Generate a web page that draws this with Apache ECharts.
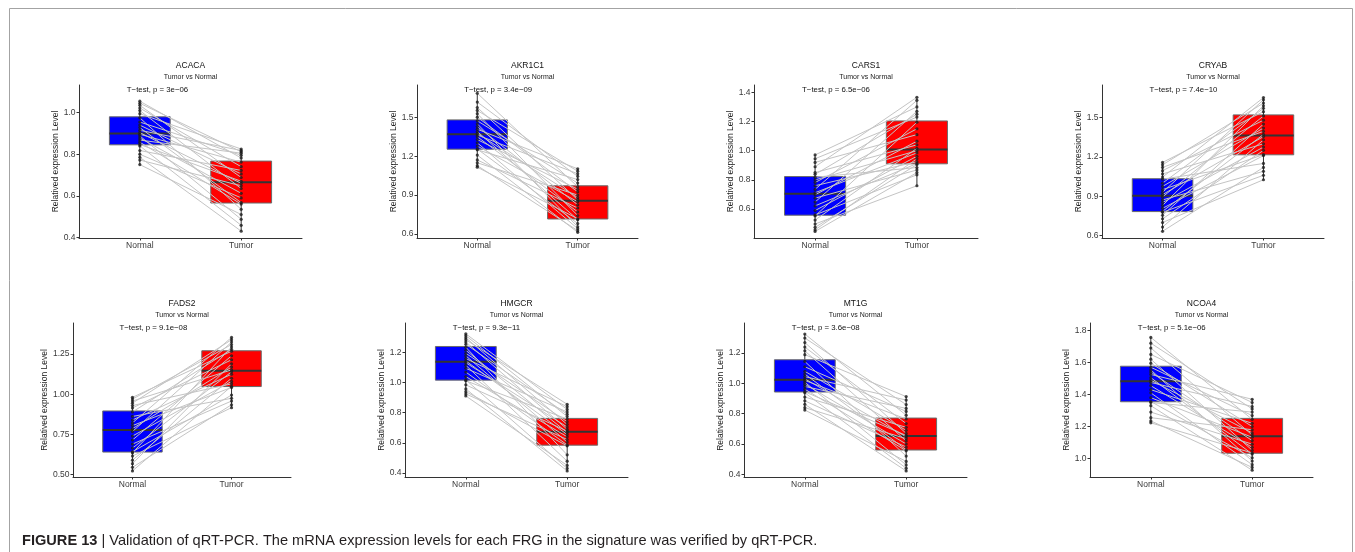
<!DOCTYPE html>
<html>
<head>
<meta charset="utf-8">
<title>qRT-PCR validation</title>
<script src="https://cdn.jsdelivr.net/npm/echarts@6/dist/echarts.min.js"></script>
<style>
  html, body { margin: 0; padding: 0; background: #ffffff; }
  #chart { width: 1355px; height: 552px; }
</style>
</head>
<body>
<div id="chart"></div>
<script>
// ---- data: paired relative expression, Normal[i] is paired with Tumor[i] ----
const groups = ['Normal', 'Tumor'];
const genes = ['ACACA', 'AKR1C1', 'CARS1', 'CRYAB', 'FADS2', 'HMGCR', 'MT1G', 'NCOA4'];
const pLabels = [
  'T\u2212test, p = 3e\u221206', 'T\u2212test, p = 3.4e\u221209', 'T\u2212test, p = 6.5e\u221206', 'T\u2212test, p = 7.4e\u221210',
  'T\u2212test, p = 9.1e\u221208', 'T\u2212test, p = 9.3e\u221211', 'T\u2212test, p = 3.6e\u221208', 'T\u2212test, p = 5.1e\u221206'
];

const acacaNormal = [0.750, 0.772, 0.785, 0.800, 0.818, 0.840, 0.847, 0.858, 0.868, 0.878, 0.888, 0.896, 0.904, 0.915, 0.928, 0.940, 0.955, 0.975, 0.995, 1.010, 1.022, 1.035, 1.045, 1.055];
const acacaTumor  = [0.510, 0.648, 0.430, 0.590, 0.722, 0.458, 0.670, 0.560, 0.805, 0.612, 0.487, 0.762, 0.660, 0.818, 0.567, 0.705, 0.795, 0.535, 0.825, 0.635, 0.740, 0.688, 0.812, 0.782];

const akr1c1Normal = [1.116, 1.128, 1.150, 1.172, 1.210, 1.250, 1.257, 1.280, 1.305, 1.330, 1.352, 1.365, 1.377, 1.392, 1.410, 1.430, 1.452, 1.475, 1.503, 1.530, 1.555, 1.578, 1.620, 1.688];
const akr1c1Tumor  = [0.717, 0.625, 0.900, 0.800, 0.612, 1.020, 0.680, 0.848, 0.640, 0.945, 0.770, 1.065, 0.880, 0.710, 1.103, 0.825, 0.655, 0.993, 0.925, 0.742, 1.085, 0.864, 1.045, 0.965];

const cars1Normal = [0.447, 0.458, 0.475, 0.498, 0.525, 0.553, 0.560, 0.590, 0.622, 0.648, 0.675, 0.698, 0.712, 0.735, 0.760, 0.782, 0.800, 0.818, 0.838, 0.850, 0.890, 0.920, 0.945, 0.971];
const cars1Tumor  = [0.850, 0.945, 0.905, 0.760, 1.016, 1.195, 0.835, 0.962, 0.912, 1.270, 0.868, 1.065, 0.985, 1.345, 0.925, 1.150, 1.000, 0.885, 1.250, 1.040, 1.366, 1.110, 1.230, 1.300];

const cryabNormal = [0.633, 0.665, 0.700, 0.728, 0.755, 0.778, 0.785, 0.808, 0.830, 0.852, 0.872, 0.895, 0.913, 0.930, 0.950, 0.975, 1.000, 1.030, 1.046, 1.070, 1.095, 1.120, 1.140, 1.158];
const cryabTumor  = [1.120, 1.330, 1.026, 1.250, 1.450, 1.060, 1.371, 1.210, 1.590, 1.275, 1.090, 1.512, 1.355, 1.635, 1.218, 1.420, 1.570, 1.150, 1.652, 1.300, 1.480, 1.395, 1.610, 1.545];

const fads2Normal = [0.523, 0.545, 0.568, 0.590, 0.615, 0.635, 0.642, 0.665, 0.690, 0.715, 0.740, 0.768, 0.786, 0.805, 0.822, 0.840, 0.862, 0.890, 0.915, 0.930, 0.945, 0.958, 0.970, 0.981];
const fads2Tumor  = [1.050, 0.935, 1.190, 1.100, 0.917, 1.295, 0.995, 1.140, 0.958, 1.240, 1.080, 1.325, 1.170, 1.043, 1.354, 1.125, 0.975, 1.280, 1.215, 1.065, 1.340, 1.152, 1.310, 1.268];

const hmgcrNormal = [0.911, 0.925, 0.940, 0.958, 0.985, 1.012, 1.018, 1.040, 1.070, 1.095, 1.115, 1.132, 1.144, 1.160, 1.178, 1.195, 1.215, 1.235, 1.255, 1.270, 1.285, 1.298, 1.312, 1.324];
const hmgcrTumor  = [0.450, 0.622, 0.580, 0.413, 0.678, 0.758, 0.430, 0.640, 0.586, 0.805, 0.478, 0.705, 0.655, 0.840, 0.605, 0.740, 0.668, 0.520, 0.790, 0.690, 0.856, 0.722, 0.775, 0.822];

const mt1gNormal = [0.824, 0.840, 0.862, 0.885, 0.910, 0.938, 0.945, 0.962, 0.980, 0.995, 1.008, 1.020, 1.030, 1.045, 1.062, 1.080, 1.110, 1.145, 1.190, 1.215, 1.240, 1.270, 1.300, 1.326];
const mt1gTumor  = [0.485, 0.635, 0.422, 0.580, 0.710, 0.440, 0.656, 0.555, 0.835, 0.600, 0.462, 0.765, 0.648, 0.890, 0.562, 0.690, 0.815, 0.520, 0.913, 0.620, 0.735, 0.670, 0.860, 0.790];

const ncoa4Normal = [1.223, 1.235, 1.255, 1.290, 1.330, 1.350, 1.356, 1.380, 1.410, 1.430, 1.455, 1.475, 1.489, 1.505, 1.525, 1.540, 1.553, 1.570, 1.595, 1.620, 1.650, 1.690, 1.720, 1.756];
const ncoa4Tumor  = [1.035, 0.945, 1.180, 1.090, 0.927, 1.290, 1.005, 1.133, 0.962, 1.220, 1.070, 1.325, 1.160, 1.028, 1.370, 1.112, 0.985, 1.268, 1.200, 1.052, 1.350, 1.147, 1.310, 1.245];

// y-axis tick labels and value range of each panel
const acacaTicks  = [0.4, 0.6, 0.8, 1.0];
const akr1c1Ticks = [0.6, 0.9, 1.2, 1.5];
const cars1Ticks  = [0.6, 0.8, 1.0, 1.2, 1.4];
const cryabTicks  = [0.6, 0.9, 1.2, 1.5];
const fads2Ticks  = [0.50, 0.75, 1.00, 1.25];
const hmgcrTicks  = [0.4, 0.6, 0.8, 1.0, 1.2];
const mt1gTicks   = [0.4, 0.6, 0.8, 1.0, 1.2];
const ncoa4Ticks  = [1.0, 1.2, 1.4, 1.6, 1.8];
const tickDecimals = [1, 1, 1, 1, 2, 1, 1, 1];
const yRanges = [[0.397, 1.133], [0.568, 1.752], [0.402, 1.450], [0.582, 1.748],
                 [0.485, 1.444], [0.373, 1.396], [0.382, 1.399], [0.885, 1.846]];

const normals = [acacaNormal, akr1c1Normal, cars1Normal, cryabNormal, fads2Normal, hmgcrNormal, mt1gNormal, ncoa4Normal];
const tumors  = [acacaTumor, akr1c1Tumor, cars1Tumor, cryabTumor, fads2Tumor, hmgcrTumor, mt1gTumor, ncoa4Tumor];
const ticks   = [acacaTicks, akr1c1Ticks, cars1Ticks, cryabTicks, fads2Ticks, hmgcrTicks, mt1gTicks, ncoa4Ticks];

// ---- layout: plotting area of each panel (px) ----
const panels = [
  { left: 79,   top: 85,  width: 223, height: 153 },
  { left: 417,  top: 85,  width: 221, height: 153 },
  { left: 754,  top: 85,  width: 224, height: 153 },
  { left: 1102, top: 85,  width: 222, height: 153 },
  { left: 73,   top: 323, width: 218, height: 154 },
  { left: 405,  top: 323, width: 223, height: 154 },
  { left: 744,  top: 323, width: 223, height: 154 },
  { left: 1090, top: 323, width: 223, height: 154 }
];

const FONT = '"Liberation Sans", Arial, Helvetica, sans-serif';
const BOX_FILL = ['#0000ff', '#ff0000'];
const X_MIN = 0.4, X_MAX = 2.6, BOX_HALF = 0.3;

// type-7 quantile (as in R)
function quantile(sorted, p) {
  const h = (sorted.length - 1) * p;
  const lo = Math.floor(h), hi = Math.ceil(h);
  return sorted[lo] + (h - lo) * (sorted[hi] - sorted[lo]);
}
function boxStats(values, x) {
  const s = values.slice().sort((a, b) => a - b);
  return [x, s[0], quantile(s, 0.25), quantile(s, 0.5), quantile(s, 0.75), s[s.length - 1]];
}

const grid = [], xAxis = [], yAxis = [], series = [], graphic = [];

panels.forEach((p, k) => {
  grid.push({ left: p.left, top: p.top, width: p.width, height: p.height, containLabel: false });

  xAxis.push({
    gridIndex: k, type: 'value', min: X_MIN, max: X_MAX,
    splitLine: { show: false },
    axisLine: { show: true, onZero: false, lineStyle: { color: '#333333', width: 1 } },
    axisTick: { show: true, customValues: [1, 2], length: 2.5, lineStyle: { color: '#333333', width: 1 } },
    axisLabel: {
      show: true, customValues: [1, 2], margin: 3,
      formatter: v => groups[Math.round(v) - 1],
      color: '#3a3a3a', fontSize: 8.5, fontFamily: FONT
    }
  });

  const dec = tickDecimals[k];
  yAxis.push({
    gridIndex: k, type: 'value', min: yRanges[k][0], max: yRanges[k][1],
    splitLine: { show: false },
    axisLine: { show: true, onZero: false, lineStyle: { color: '#333333', width: 1 } },
    axisTick: { show: true, customValues: ticks[k], length: 2.5, lineStyle: { color: '#333333', width: 1 } },
    axisLabel: {
      show: true, customValues: ticks[k], margin: 3.5,
      formatter: v => Number(v).toFixed(dec),
      color: '#3a3a3a', fontSize: 8.5, fontFamily: FONT
    },
    name: 'Relatived expression Level', nameLocation: 'middle', nameGap: 14,
    nameTextStyle: { color: '#222222', fontSize: 8.5, fontFamily: FONT }
  });

  const normal = normals[k], tumor = tumors[k];

  // boxes with whiskers
  series.push({
    type: 'custom', xAxisIndex: k, yAxisIndex: k, silent: true, z: 1,
    data: [boxStats(normal, 1), boxStats(tumor, 2)],
    encode: { x: 0, y: [1, 2, 3, 4, 5] },
    renderItem: (params, api) => {
      const x = api.value(0);
      const pMin = api.coord([x, api.value(1)]);
      const pQ1 = api.coord([x - BOX_HALF, api.value(2)]);
      const pMed = api.coord([x, api.value(3)]);
      const pQ3 = api.coord([x + BOX_HALF, api.value(4)]);
      const pMax = api.coord([x, api.value(5)]);
      const cx = pMed[0];
      const x0 = pQ1[0], x1 = pQ3[0];
      const wl = { stroke: '#333333', lineWidth: 1 };
      return {
        type: 'group',
        children: [
          { type: 'line', shape: { x1: cx, y1: pMax[1], x2: cx, y2: pQ3[1] }, style: wl },
          { type: 'line', shape: { x1: cx, y1: pQ1[1], x2: cx, y2: pMin[1] }, style: wl },
          { type: 'rect', shape: { x: x0, y: pQ3[1], width: x1 - x0, height: pQ1[1] - pQ3[1] },
            style: { fill: BOX_FILL[params.dataIndex], stroke: '#6b6b6b', lineWidth: 1 } },
          { type: 'line', shape: { x1: x0, y1: pMed[1], x2: x1, y2: pMed[1] },
            style: { stroke: '#333333', lineWidth: 2 } }
        ]
      };
    }
  });

  // paired lines
  series.push({
    type: 'lines', coordinateSystem: 'cartesian2d', xAxisIndex: k, yAxisIndex: k,
    silent: true, z: 3, polyline: false,
    lineStyle: { color: '#c4c4c4', width: 1, opacity: 1, curveness: 0 },
    data: normal.map((n, i) => ({ coords: [[1, n], [2, tumor[i]]] }))
  });

  // sample points
  series.push({
    type: 'scatter', xAxisIndex: k, yAxisIndex: k, silent: true, z: 4,
    symbol: 'circle', symbolSize: 3.2,
    itemStyle: { color: '#1a1a1a', borderWidth: 0 },
    data: normal.map(v => [1, v]).concat(tumor.map(v => [2, v]))
  });

  // panel title, subtitle and test label
  const cxPanel = p.left + p.width / 2;
  graphic.push({
    type: 'text', x: cxPanel, y: p.top - 19, silent: true,
    style: { text: genes[k], fill: '#111111', font: '8.5px ' + FONT, textAlign: 'center', textVerticalAlign: 'middle' }
  });
  graphic.push({
    type: 'text', x: cxPanel, y: p.top - 8, silent: true,
    style: { text: 'Tumor vs Normal', fill: '#222222', font: '7px ' + FONT, textAlign: 'center', textVerticalAlign: 'middle' }
  });
  const normalX = p.left + (1 - X_MIN) / (X_MAX - X_MIN) * p.width;
  graphic.push({
    type: 'text', x: normalX - 13, y: p.top + 4.5, silent: true,
    style: { text: pLabels[k], fill: '#111111', font: '7.8px ' + FONT, textAlign: 'left', textVerticalAlign: 'middle' }
  });
});

// figure frame and caption
graphic.push({
  type: 'rect', silent: true, z: -1,
  shape: { x: 9.5, y: 8.5, width: 1343, height: 600 },
  style: { fill: 'none', stroke: '#a3a3a3', lineWidth: 1 }
});
graphic.push({
  type: 'text', x: 22, y: 541, silent: true,
  style: {
    text: '{b|FIGURE 13} | Validation of qRT-PCR. The mRNA expression levels for each FRG in the signature was verified by qRT-PCR.',
    fill: '#231f20', font: '14.6px ' + FONT, textVerticalAlign: 'middle',
    rich: { b: { fontWeight: 'bold', fontSize: 14.6, fontFamily: FONT, fill: '#231f20' } }
  }
});

const chart = echarts.init(document.getElementById('chart'), null, { renderer: 'canvas' });
chart.setOption({
  animation: false,
  backgroundColor: '#ffffff',
  grid, xAxis, yAxis, series, graphic
});
</script>
</body>
</html>
